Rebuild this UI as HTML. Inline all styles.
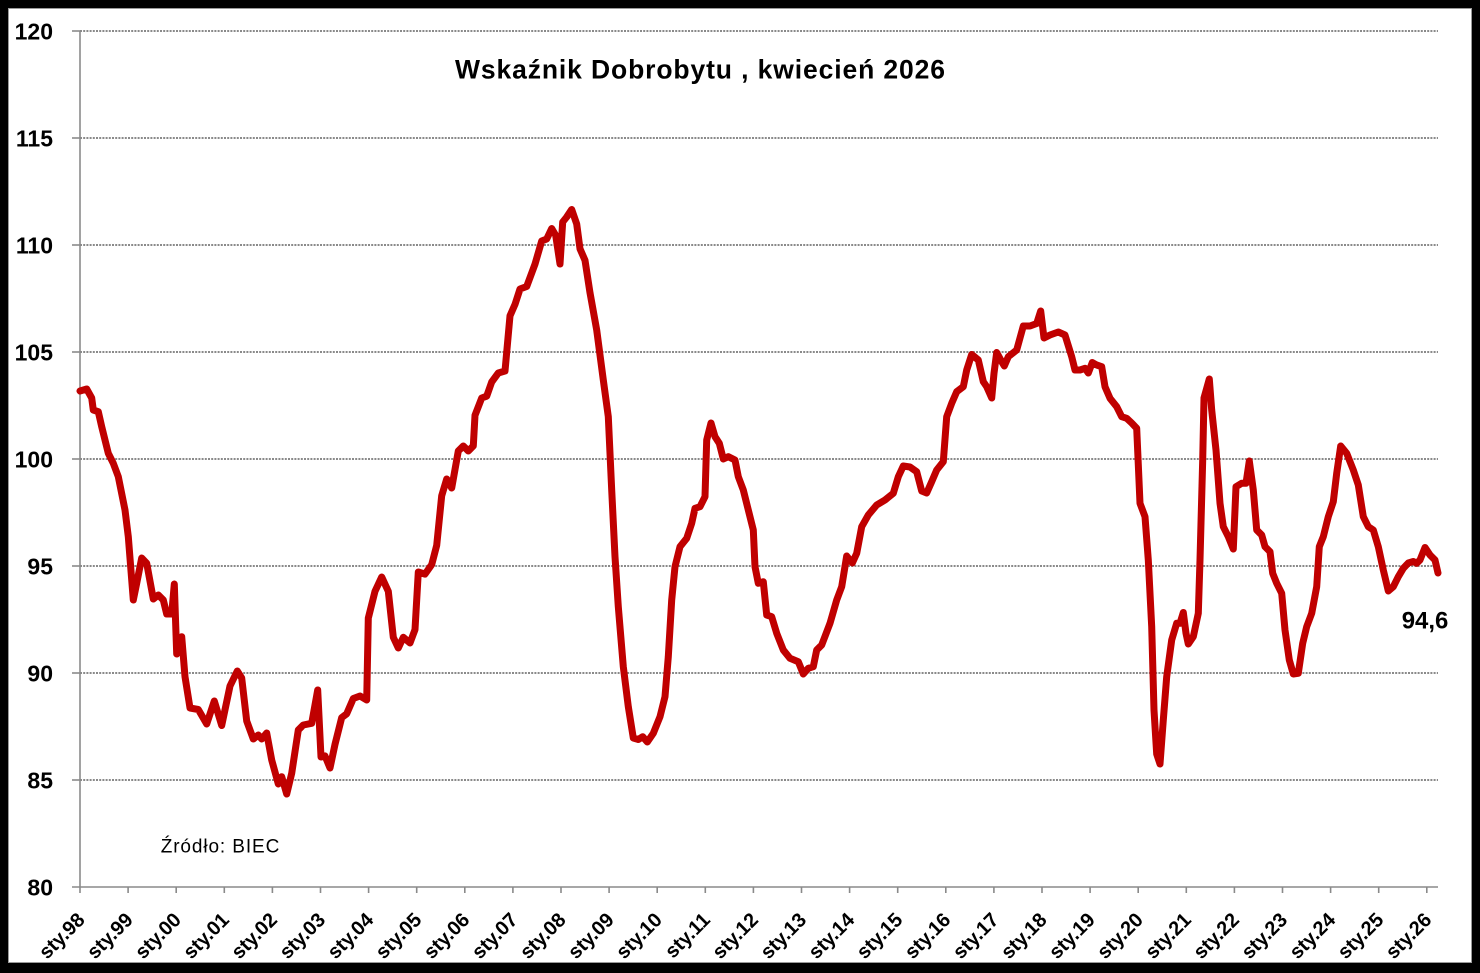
<!DOCTYPE html>
<html><head><meta charset="utf-8"><style>
html,body{margin:0;padding:0;background:#000;}
svg{display:block;}
text{font-family:"Liberation Sans",sans-serif;fill:#000;}
</style></head><body>
<svg width="1480" height="973" viewBox="0 0 1480 973" xmlns="http://www.w3.org/2000/svg">
<rect x="0" y="0" width="1480" height="973" fill="#000"/>
<rect x="8.5" y="8.5" width="1463" height="954" fill="#fff" stroke="#9a9a9a" stroke-width="1"/>
<g stroke="#8a8a8a" stroke-width="2" stroke-dasharray="2 1.2" fill="none">
<line x1="80" y1="31" x2="1438" y2="31"/>
<line x1="80" y1="138" x2="1438" y2="138"/>
<line x1="80" y1="245" x2="1438" y2="245"/>
<line x1="80" y1="352" x2="1438" y2="352"/>
<line x1="80" y1="459" x2="1438" y2="459"/>
<line x1="80" y1="566" x2="1438" y2="566"/>
<line x1="80" y1="673" x2="1438" y2="673"/>
<line x1="80" y1="780" x2="1438" y2="780"/>
</g>
<g stroke="#8a8a8a" stroke-width="1.6" fill="none">
<line x1="80" y1="31" x2="80" y2="887"/>
<line x1="72" y1="887" x2="1438" y2="887"/>
<line x1="72" y1="31" x2="80" y2="31"/>
<line x1="72" y1="138" x2="80" y2="138"/>
<line x1="72" y1="245" x2="80" y2="245"/>
<line x1="72" y1="352" x2="80" y2="352"/>
<line x1="72" y1="459" x2="80" y2="459"/>
<line x1="72" y1="566" x2="80" y2="566"/>
<line x1="72" y1="673" x2="80" y2="673"/>
<line x1="72" y1="780" x2="80" y2="780"/>
<path d="M80 887v6M128.1 887v6M176.2 887v6M224.3 887v6M272.4 887v6M320.5 887v6M368.6 887v6M416.7 887v6M464.8 887v6M512.9 887v6M561 887v6M609.1 887v6M657.2 887v6M705.3 887v6M753.4 887v6M801.5 887v6M849.6 887v6M897.7 887v6M945.8 887v6M993.9 887v6M1042 887v6M1090.1 887v6M1138.2 887v6M1186.3 887v6M1234.4 887v6M1282.5 887v6M1330.6 887v6M1378.7 887v6M1426.8 887v6"/>
</g>
<g font-size="23" font-weight="bold" text-anchor="end">
<text x="53" y="39.3">120</text>
<text x="53" y="146.3">115</text>
<text x="53" y="253.3">110</text>
<text x="53" y="360.3">105</text>
<text x="53" y="467.3">100</text>
<text x="53" y="574.3">95</text>
<text x="53" y="681.3">90</text>
<text x="53" y="788.3">85</text>
<text x="53" y="895.3">80</text>
</g>
<g font-size="20" font-weight="bold" text-anchor="end">
<text transform="translate(86,921) rotate(-45)">sty.98</text>
<text transform="translate(134.1,921) rotate(-45)">sty.99</text>
<text transform="translate(182.2,921) rotate(-45)">sty.00</text>
<text transform="translate(230.3,921) rotate(-45)">sty.01</text>
<text transform="translate(278.4,921) rotate(-45)">sty.02</text>
<text transform="translate(326.5,921) rotate(-45)">sty.03</text>
<text transform="translate(374.6,921) rotate(-45)">sty.04</text>
<text transform="translate(422.7,921) rotate(-45)">sty.05</text>
<text transform="translate(470.8,921) rotate(-45)">sty.06</text>
<text transform="translate(518.9,921) rotate(-45)">sty.07</text>
<text transform="translate(567,921) rotate(-45)">sty.08</text>
<text transform="translate(615.1,921) rotate(-45)">sty.09</text>
<text transform="translate(663.2,921) rotate(-45)">sty.10</text>
<text transform="translate(711.3,921) rotate(-45)">sty.11</text>
<text transform="translate(759.4,921) rotate(-45)">sty.12</text>
<text transform="translate(807.5,921) rotate(-45)">sty.13</text>
<text transform="translate(855.6,921) rotate(-45)">sty.14</text>
<text transform="translate(903.7,921) rotate(-45)">sty.15</text>
<text transform="translate(951.8,921) rotate(-45)">sty.16</text>
<text transform="translate(999.9,921) rotate(-45)">sty.17</text>
<text transform="translate(1048,921) rotate(-45)">sty.18</text>
<text transform="translate(1096.1,921) rotate(-45)">sty.19</text>
<text transform="translate(1144.2,921) rotate(-45)">sty.20</text>
<text transform="translate(1192.3,921) rotate(-45)">sty.21</text>
<text transform="translate(1240.4,921) rotate(-45)">sty.22</text>
<text transform="translate(1288.5,921) rotate(-45)">sty.23</text>
<text transform="translate(1336.6,921) rotate(-45)">sty.24</text>
<text transform="translate(1384.7,921) rotate(-45)">sty.25</text>
<text transform="translate(1432.8,921) rotate(-45)">sty.26</text>
</g>
<text x="455" y="78.3" font-size="26.5" font-weight="bold" textLength="490" lengthAdjust="spacing">Wskaźnik Dobrobytu , kwiecień 2026</text>
<text x="160.7" y="852.7" font-size="19" textLength="118.6" lengthAdjust="spacing">Źródło: BIEC</text>
<text x="1401.7" y="628.3" font-size="24" font-weight="bold" textLength="46.6" lengthAdjust="spacingAndGlyphs">94,6</text>
<polyline fill="none" stroke="#C00000" stroke-width="7" stroke-linejoin="round" stroke-linecap="round" points="
80,391 86.7,389 91.7,398 93.3,410 98.3,411.7 101.7,426.7 108.3,453.3 113.3,463.3 118.3,476.7 125,510 128.3,536.7 133.3,600 136.7,583.3 141.7,558 146.7,563.3 153.3,599 158.3,595 163.3,600 166.7,614 171.7,614 174.3,584 176.7,654 181.7,636.7 185,676.7 190,708 198.3,709.5 206.7,724 214.3,701 221.7,725.5 230,686 237.3,671 241.7,678 246.7,721 253.3,739 258.3,735 261.7,739 266.7,733 271.7,760 278.3,784 281.7,776.7 286.7,794 291.7,773.3 298.3,730 303.3,725 311.7,723.3
317.7,690 321,757 325,755.9 330,768 335,744.4 341.7,717.6 346.7,713.8 353.3,698.5 360,696 366.7,700 368.3,618.1 375,591.3 381.7,577 388.3,591.3 393.3,637.3 398.3,648 403.3,637.3 410,643 415,629.6 418.3,572 425,574.1 431.7,564.6 436.7,545.4 441.7,495.7 446.7,479 451.7,488 458.3,451 463.3,446 468.3,451 473.3,445.9 475,415.3 481.7,398 486.7,396.2 491.7,382 498.3,373 505,371 510,315.8 515,304.4 520,289 526.7,286.5 535,264.1 541.7,241 546.7,239 551.7,228.5 555.7,235.4 560,264 562.7,222 566.7,217 571.7,209.5 576.7,224 580,248.8 585,260.3 590,292.8 596.7,330
603.3,380 608.3,416.7 611.7,490 615,556.7 618.3,606.7 623.3,666.7 628.3,706.7 633.3,738 638.3,739.5 642.7,736.7 647.3,742 653.3,733.3 660,716.7 665,696.7 668.3,656.7 671.7,600 675,566.7 680,546.7 686.7,538.3 691.7,523.3 695,508.3 700,506.7 705,496.7 706.7,440 711,423 715,436.7 719.3,443.3 723.3,459 728.3,456.7 735,460 738.3,476.7 743.3,490 748.3,510 753.3,530 755,566.7 758.3,583.3 763.3,581.7 766.7,615 771.7,616.7 776.7,633.3 783.3,650 790,658.3 798.3,661.7 803.3,674 808.3,668.3 813.3,666.7 816.7,650 821.7,645 830,623.3 836.7,600 841.7,586.7 846.7,556
852.3,563 856.7,553.3 861.7,526.7 868.3,515 876.7,505 885,500 893.3,493.3 898.3,476.7 903.3,466 910,467 916.7,471.7 921.7,491 926.7,493 931.7,481.7 936.7,470 943.3,461.7 946.7,416.7 951.7,403.3 956.7,391.7 963.3,386.7 966.7,370 971.7,354.5 978.3,360 983.3,381.7 986.7,386.7 991.7,398 994,373.3 996.7,352.5 1001.7,361.7 1004.3,366 1008.3,356.7 1016.7,350 1023.3,326 1030,326 1036.7,323.5 1040.7,311 1044,338 1050,335 1058.3,332 1065,335 1071.7,356.7 1075,370 1080,370 1085,368.3 1088.3,373 1092.3,362.5 1096.7,365 1101.7,366.7 1105,386.7 1110,398.3 1116.7,406.7 1121.7,416.7 1126.7,418.3 1131.7,423 1136.7,428.3
1140,503.3 1145,516.7 1148.3,560 1151.7,626.7 1154,710 1156.7,754 1160,764 1163.3,720 1166.7,676.7 1171.7,640 1176.7,623.3 1180,623.3 1183.3,612.5 1186,633.3 1188.3,644 1193.3,636.7 1198.3,613.3 1200,560 1202.7,460 1204,398 1209.3,379 1211.7,410 1216,450 1220,503.3 1223.3,526.7 1228.3,536.7 1233.3,549 1236,486.7 1241.7,483.3 1246,483.3 1249.3,461 1253.3,490 1256.7,530 1261.7,535 1265,546.7 1270,551.7 1272.7,573.3 1276.7,583.3 1281.7,593.3 1285,630 1289.3,660 1293.3,674 1298.3,673.3 1302.7,643.3 1306.7,626.7 1311.7,613.3 1316.7,586.7 1319.3,546.7
1323.3,536.7 1328.3,516.7 1333.3,501.7 1336.7,473.3 1340.7,446 1346.7,453.3 1353.3,470 1358.3,485 1363.3,516.7 1368.3,526.7 1373.3,530 1378.3,546.7 1383.3,570 1388.3,591 1393.3,586.7 1398.3,576.7 1403.3,568.3 1408.3,563 1413.3,561.5 1416.7,563.3 1420,560 1425,547.5 1430,555 1435,560 1438,573"/>
</svg>
</body></html>
